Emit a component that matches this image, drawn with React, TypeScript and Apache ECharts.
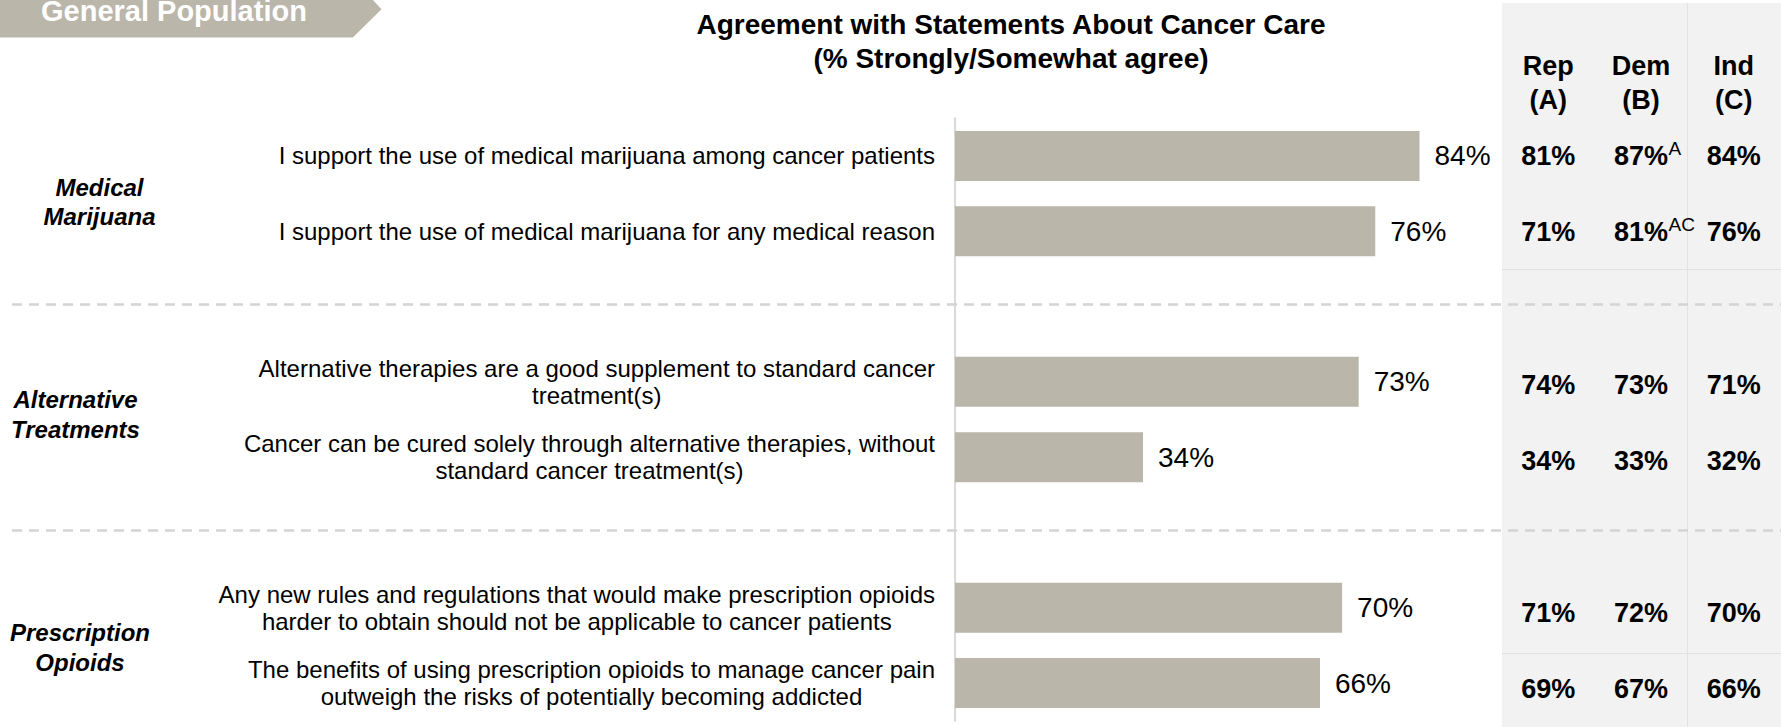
import React, { useEffect, useRef } from 'react';
import * as echarts from 'echarts';

const FONT = '"Liberation Sans", Arial, Helvetica, sans-serif';

const chartTitle = 'Agreement with Statements About Cancer Care\n(% Strongly/Somewhat agree)';
const bannerText = 'General Population';

// ' ' and '  ' are empty spacer rows between the groups
const statements = [
  'I support the use of medical marijuana among cancer patients',
  'I support the use of medical marijuana for any medical reason',
  ' ',
  'Alternative therapies are a good supplement to standard cancer\ntreatment(s)',
  'Cancer can be cured solely through alternative therapies, without\nstandard cancer treatment(s)',
  '  ',
  'Any new rules and regulations that would make prescription opioids\nharder to obtain should not be applicable to cancer patients',
  'The benefits of using prescription opioids to manage cancer pain\noutweigh the risks of potentially becoming addicted',
];
const totalAgree = [84, 76, '-', 73, 34, '-', 70, 66];

const groupLabels = ['Medical\nMarijuana', 'Alternative\nTreatments', 'Prescription\nOpioids'];
const separatorRows = [2, 5];

const columnHeaders = ['Rep\n(A)', 'Dem\n(B)', 'Ind\n(C)'];
const repValues = [81, 71, null, 74, 34, null, 71, 69];
const demValues = [87, 81, null, 73, 33, null, 72, 67];
const indValues = [84, 76, null, 71, 32, null, 70, 66];
const demSignificance = ['A', 'AC', '', '', '', '', '', ''];

const BAR_COLOR = '#bab6aa';

function buildTable() {
  const out: any[] = [];
  [repValues, demValues, indValues].forEach((arr, c) => {
    arr.forEach((v, r) => {
      if (v !== null && v !== undefined) out.push([c, r, v]);
    });
  });
  return out;
}

function buildSig() {
  const out: any[] = [];
  demSignificance.forEach((s, r) => {
    if (s) out.push([1, r, s]);
  });
  return out;
}

export default function App() {
  const ref = useRef<HTMLDivElement>(null);

  useEffect(() => {
    if (!ref.current) return;
    const chart = echarts.init(ref.current, null, { renderer: 'svg' });
    const option: any = {
      animation: false,
      grid: [
        { left: 955, top: 118.3, width: 553, height: 602.4, containLabel: false },
        { left: 1502, top: 118.25, width: 278, height: 615.2, containLabel: false },
      ],
      xAxis: [
        { type: 'value', gridIndex: 0, min: 0, max: 100, show: false },
        {
          type: 'category',
          gridIndex: 1,
          data: columnHeaders,
          position: 'top',
          axisLine: { show: false },
          axisTick: { show: false },
          splitLine: { show: false },
          axisLabel: {
            interval: 0,
            margin: 1,
            fontSize: 27,
            fontWeight: 'bold',
            lineHeight: 34,
            color: '#000',
            fontFamily: FONT,
          },
        },
      ],
      yAxis: [
        {
          type: 'category',
          gridIndex: 0,
          data: statements,
          inverse: true,
          axisLine: { show: true, lineStyle: { color: '#d9d9d9', width: 2 } },
          axisTick: { show: false },
          splitLine: { show: false },
          axisLabel: {
            interval: 0,
            margin: 20,
            color: '#000',
            fontSize: 24,
            fontFamily: FONT,
            formatter: (v: string) => (v.trim() ? `{c|${v}}` : ''),
            rich: {
              c: { align: 'center', fontSize: 24, lineHeight: 27, color: '#000', fontFamily: FONT },
            },
          },
        },
        {
          type: 'category',
          gridIndex: 1,
          data: statements.map((_, i) => String(i)),
          inverse: true,
          show: false,
        },
      ],
      series: [
        {
          type: 'bar',
          xAxisIndex: 0,
          yAxisIndex: 0,
          data: totalAgree,
          barWidth: 50,
          silent: true,
          itemStyle: { color: BAR_COLOR },
          label: {
            show: true,
            position: 'right',
            distance: 15,
            fontSize: 28,
            color: '#000',
            fontFamily: FONT,
            formatter: '{c}%',
          },
        },
        {
          type: 'scatter',
          xAxisIndex: 1,
          yAxisIndex: 1,
          data: buildTable(),
          symbolSize: 1,
          silent: true,
          itemStyle: { color: '#f2f2f2', opacity: 1 },
          label: {
            show: true,
            position: 'inside',
            fontSize: 27,
            fontWeight: 'bold',
            color: '#000',
            opacity: 1,
            fontFamily: FONT,
            formatter: (p: any) => p.value[2] + '%',
          },
        },
        {
          type: 'scatter',
          xAxisIndex: 1,
          yAxisIndex: 1,
          data: buildSig(),
          symbolSize: 1,
          silent: true,
          itemStyle: { color: '#f2f2f2', opacity: 1 },
          label: {
            show: true,
            position: 'inside',
            align: 'left',
            offset: [27.5, -8],
            fontSize: 19,
            color: '#000',
            opacity: 1,
            fontFamily: FONT,
            formatter: (p: any) => p.value[2],
          },
        },
      ],
    };
    chart.setOption(option);

    const sepLines = separatorRows.map((r, i) => {
      const y = (chart.convertToPixel({ yAxisIndex: 0 } as any, r) as any) - 2;
      return {
        type: 'line',
        id: 'sep' + i,
        silent: true,
        z: 1,
        shape: { x1: 12, y1: y, x2: 1781, y2: y },
        style: { stroke: '#d4d4d4', lineWidth: 2.5, lineDash: [10, 7] },
      };
    });

    const groupPos = [
      { x: 99.5, y: 202 },
      { x: 75.5, y: 414.5 },
      { x: 80, y: 647.5 },
    ];

    const graphics: any[] = [
      {
        type: 'rect',
        id: 'panel',
        silent: true,
        z: -10,
        shape: { x: 1502, y: 3, width: 279, height: 724 },
        style: { fill: '#f2f2f2' },
      },
      {
        type: 'line',
        id: 'vcell',
        silent: true,
        z: -9,
        shape: { x1: 1687.5, y1: 3, x2: 1687.5, y2: 727 },
        style: { stroke: '#e2e2e2', lineWidth: 1 },
      },
      {
        type: 'line',
        id: 'hcell1',
        silent: true,
        z: -9,
        shape: { x1: 1502, y1: 269.5, x2: 1781, y2: 269.5 },
        style: { stroke: '#e2e2e2', lineWidth: 1 },
      },
      {
        type: 'line',
        id: 'hcell2',
        silent: true,
        z: -9,
        shape: { x1: 1502, y1: 653.5, x2: 1781, y2: 653.5 },
        style: { stroke: '#e2e2e2', lineWidth: 1 },
      },
      ...sepLines,
      {
        type: 'polygon',
        id: 'banner',
        silent: true,
        shape: {
          points: [
            [0, 0],
            [373, 0],
            [381.5, 9.3],
            [352.8, 37.4],
            [0, 37.4],
          ],
        },
        style: { fill: BAR_COLOR },
      },
      {
        type: 'text',
        id: 'bannerText',
        silent: true,
        z: 5,
        style: {
          text: bannerText,
          x: 41,
          y: 10.5,
          fill: '#fff',
          fontSize: 29,
          fontWeight: 'bold',
          fontFamily: FONT,
          align: 'left',
          verticalAlign: 'middle',
        },
      },
      {
        type: 'text',
        id: 'title',
        silent: true,
        style: {
          text: chartTitle,
          x: 1011,
          y: 41,
          fill: '#000',
          fontSize: 28,
          fontWeight: 'bold',
          fontFamily: FONT,
          lineHeight: 34,
          align: 'center',
          verticalAlign: 'middle',
        },
      },
      ...groupLabels.map((g, i) => ({
        type: 'text',
        id: 'group' + i,
        silent: true,
        style: {
          text: g,
          x: groupPos[i].x,
          y: groupPos[i].y,
          fill: '#000',
          fontSize: 24,
          fontWeight: 'bold',
          fontStyle: 'italic',
          fontFamily: FONT,
          lineHeight: 29.5,
          align: 'center',
          verticalAlign: 'middle',
        },
      })),
    ];
    chart.setOption({ graphic: { elements: graphics } });

    return () => chart.dispose();
  }, []);

  return (
    <div
      ref={ref}
      style={{ position: 'fixed', left: 0, top: 0, width: 1781, height: 727, background: '#fff' }}
    />
  );
}
